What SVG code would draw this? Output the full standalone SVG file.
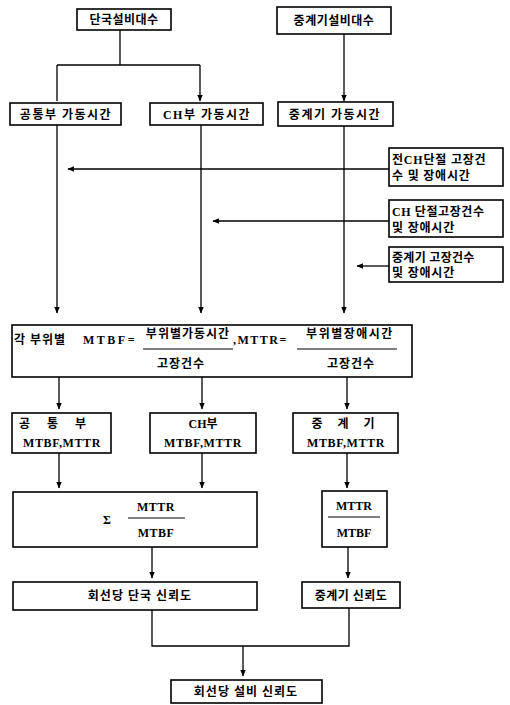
<svg xmlns="http://www.w3.org/2000/svg" width="510" height="705" viewBox="0 0 510 705">
<style>
.box{fill:#fff;stroke:#000;stroke-width:1.6}
.ln{fill:none;stroke:#000;stroke-width:1.3}
text{font-family:"Liberation Serif","Noto Sans CJK KR",serif;font-weight:bold;font-size:12px;fill:#000}
.c{text-anchor:middle}
.fl{stroke:#000;stroke-width:1.2}
</style>
<defs>
<marker id="ah" viewBox="0 0 6 6" refX="5.5" refY="3" markerWidth="5" markerHeight="5" orient="auto"><path d="M0,0.5L6,3L0,5.5z" fill="#000"/></marker>
</defs>
<rect width="510" height="705" fill="#fff"/>
<g id="connectors">
<path class="ln" d="M120,30V65M57,65H200M57,65V98M200,65V98" />
<path class="ln" d="M57,98V101M200,98V101" marker-end="url(#ah)"/>
<path class="ln" d="M344,34V101" marker-end="url(#ah)"/>
<path class="ln" d="M57,125V313" marker-end="url(#ah)"/>
<path class="ln" d="M201,125V313" marker-end="url(#ah)"/>
<path class="ln" d="M344,126V313" marker-end="url(#ah)"/>
<path class="ln" d="M389,169H68" marker-end="url(#ah)"/>
<path class="ln" d="M389,221H213" marker-end="url(#ah)"/>
<path class="ln" d="M389,266H357" marker-end="url(#ah)"/>
<path class="ln" d="M59,377V409" marker-end="url(#ah)"/>
<path class="ln" d="M202,377V409" marker-end="url(#ah)"/>
<path class="ln" d="M347,377V409" marker-end="url(#ah)"/>
<path class="ln" d="M59,453V488" marker-end="url(#ah)"/>
<path class="ln" d="M202,453V488" marker-end="url(#ah)"/>
<path class="ln" d="M347,453V488" marker-end="url(#ah)"/>
<path class="ln" d="M152,547V578" marker-end="url(#ah)"/>
<path class="ln" d="M348,547V578" marker-end="url(#ah)"/>
<path class="ln" d="M152,610V646H349V608"/>
<path class="ln" d="M243,646V676" marker-end="url(#ah)"/>
</g>
<g id="n1"><rect class="box" x="77" y="9" width="94" height="21"/><text class="c" x="124" y="24" letter-spacing="0.5">단국설비대수</text></g>
<g id="n2"><rect class="box" x="277" y="7" width="114" height="27"/><text class="c" x="334" y="25" letter-spacing="0.5">중계기설비대수</text></g>
<g id="n3"><rect class="box" x="10" y="103" width="111" height="22"/><text class="c" x="66" y="119" letter-spacing="1.5">공통부 가동시간</text></g>
<g id="n4"><rect class="box" x="150" y="103" width="113" height="22"/><text class="c" x="207" y="119" letter-spacing="1.5">CH부 가동시간</text></g>
<g id="n5"><rect class="box" x="278" y="102" width="115" height="24"/><text class="c" x="335" y="119" letter-spacing="1.5">중계기 가동시간</text></g>
<g id="n6"><rect class="box" x="389" y="148" width="114" height="38"/><text x="392" y="164" letter-spacing="0.8">전CH단절 고장건</text><text x="392" y="180" letter-spacing="0.8">수 및 장애시간</text></g>
<g id="n7"><rect class="box" x="389" y="200" width="114" height="37"/><text x="392" y="216" letter-spacing="0.6">CH 단절고장건수</text><text x="392" y="232" letter-spacing="0.8">및 장애시간</text></g>
<g id="n8"><rect class="box" x="389" y="247" width="114" height="35"/><text x="392" y="262" letter-spacing="0.3">중계기 고장건수</text><text x="392" y="277" letter-spacing="0.8">및 장애시간</text></g>
<g id="n9"><rect class="box" x="12" y="325" width="400" height="52"/>
<text x="14" y="344">각</text>
<text x="30" y="344" letter-spacing="1">부위별</text>
<text x="83" y="344" letter-spacing="2.5">MTBF=</text>
<text class="c" x="188" y="338" letter-spacing="1">부위별가동시간</text>
<line class="fl" x1="143" y1="349" x2="233" y2="349"/>
<text class="c" x="181" y="368" letter-spacing="1">고장건수</text>
<text x="233" y="344" letter-spacing="1.5">,MTTR=</text>
<text class="c" x="350" y="338" letter-spacing="1.5">부위별장애시간</text>
<line class="fl" x1="297" y1="349" x2="397" y2="349"/>
<text class="c" x="351" y="368" letter-spacing="1">고장건수</text>
</g>
<g id="n10"><rect class="box" x="12" y="413" width="99" height="40"/><text class="c" x="56" y="428" letter-spacing="7">공 통 부</text><text class="c" x="62" y="447" font-size="11" letter-spacing="0.6">MTBF,MTTR</text></g>
<g id="n11"><rect class="box" x="150" y="413" width="106" height="40"/><text class="c" x="203" y="428">CH부</text><text class="c" x="203" y="447" font-size="11" letter-spacing="0.6">MTBF,MTTR</text></g>
<g id="n12"><rect class="box" x="293" y="413" width="105" height="40"/><text class="c" x="346" y="428" letter-spacing="6">중 계 기</text><text class="c" x="346" y="447" font-size="11" letter-spacing="0.6">MTBF,MTTR</text></g>
<g id="n13"><rect class="box" x="13" y="492" width="244" height="55"/>
<text x="103" y="524" font-size="13">Σ</text>
<text class="c" x="156" y="511" font-size="11" letter-spacing="0.5">MTTR</text>
<line class="fl" x1="128" y1="518" x2="185" y2="518"/>
<text class="c" x="156" y="537" font-size="11" letter-spacing="0.5">MTBF</text></g>
<g id="n14"><rect class="box" x="322" y="491" width="65" height="56"/>
<text class="c" x="354" y="510" font-size="11">MTTR</text>
<line class="fl" x1="328" y1="517" x2="380" y2="517"/>
<text class="c" x="354" y="537" font-size="11">MTBF</text></g>
<g id="n15"><rect class="box" x="13" y="582" width="244" height="28"/><text class="c" x="140" y="600" letter-spacing="1">회선당  단국  신뢰도</text></g>
<g id="n16"><rect class="box" x="302" y="582" width="98" height="26"/><text class="c" x="351" y="600" letter-spacing="0.5">중계기 신뢰도</text></g>
<g id="n17"><rect class="box" x="171" y="680" width="151" height="23"/><text class="c" x="246" y="696" letter-spacing="1">회선당  설비  신뢰도</text></g>
</svg>
